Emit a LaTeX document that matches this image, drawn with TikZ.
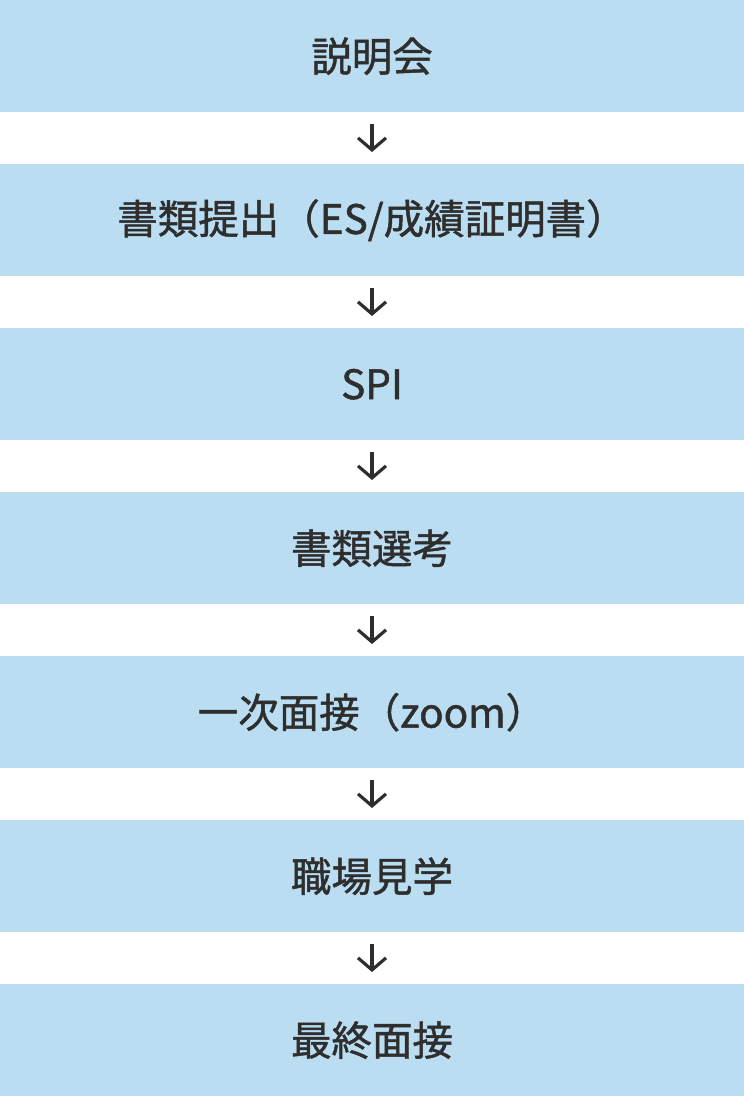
\documentclass[tikz,border=0pt]{standalone}
\usepackage{fontspec}
\newfontfamily\cjk[FakeBold=1.2]{Noto Sans CJK JP}
\usetikzlibrary{arrows.meta}
\definecolor{boxblue}{HTML}{BBDDF2}
\definecolor{txt}{HTML}{2E2E2E}
\begin{document}
\begin{tikzpicture}[x=1pt,y=1pt,
  stepbox/.style={fill=boxblue,draw=none,minimum width=744pt,minimum height=112pt,inner sep=0pt,anchor=north,font=\cjk\fontsize{40.5}{46}\selectfont,text=txt},
  arr/.style={-{Straight Barb[length=12pt,width=28pt,line width=3.2pt]},line width=3.2pt,draw=txt}]
\useasboundingbox (0,0) rectangle (744,-1096);
\node[stepbox] (b1) at (372,0) {説明会};
\node[stepbox] (b2) at (372,-164) {書類提出（ES/成績証明書）};
\node[stepbox] (b3) at (372,-328) {SPI};
\node[stepbox] (b4) at (372,-492) {書類選考};
\node[stepbox] (b5) at (372,-656) {一次面接（zoom）};
\node[stepbox] (b6) at (372,-820) {職場見学};
\node[stepbox] (b7) at (372,-984) {最終面接};
\foreach \a/\b in {b1/b2,b2/b3,b3/b4,b4/b5,b5/b6,b6/b7}{
  \draw[arr] ([yshift=-12pt]\a.south) -- ([yshift=12pt]\b.north);
}
\end{tikzpicture}
\end{document}
